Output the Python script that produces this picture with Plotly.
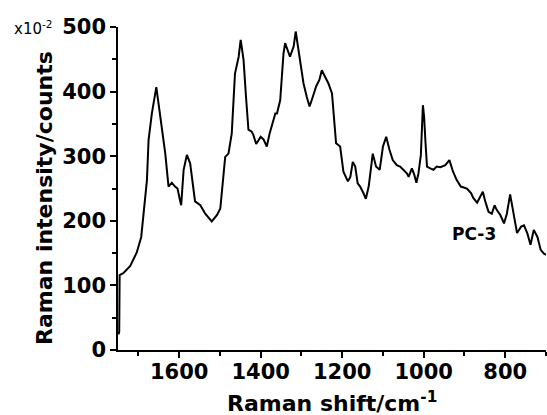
import plotly.graph_objects as go

# Raman shift (cm^-1) and intensity (x10^-2 counts)
shift = [1749, 1747, 1746, 1737, 1720, 1704, 1693, 1683, 1679, 1675, 1667, 1656,
         1647, 1634, 1626, 1618, 1610, 1604, 1598, 1595, 1589, 1581, 1573, 1565,
         1561, 1548, 1536, 1520, 1507, 1499, 1493, 1487, 1479, 1471, 1463, 1454,
         1449, 1442, 1436, 1430, 1422, 1418, 1411, 1400, 1393, 1385, 1378, 1370,
         1364, 1360, 1352, 1344, 1340, 1328, 1319, 1314, 1303, 1295, 1287, 1280,
         1272, 1264, 1256, 1250, 1242, 1234, 1225, 1221, 1215, 1205, 1197, 1186,
         1180, 1174, 1168, 1162, 1156, 1148, 1142, 1135, 1130, 1125, 1117, 1108,
         1100, 1092, 1084, 1076, 1066, 1058, 1050, 1041, 1037, 1029, 1023, 1018,
         1013, 1007, 1002, 999, 996, 992, 984, 976, 968, 959, 947, 937, 928, 919,
         909, 894, 884, 878, 869, 855, 849, 841, 833, 826, 821, 812, 803, 796,
         788, 779, 771, 761, 754, 746, 738, 730, 721, 713, 705, 698]
intensity = [24, 28, 116, 119, 130, 151, 175, 232, 263, 325, 366, 407,
             366, 304, 253, 259, 253, 250, 232, 224, 279, 302, 289, 248,
             230, 224, 211, 199, 209, 219, 263, 299, 304, 335, 428, 454,
             480, 449, 392, 341, 338, 333, 319, 330, 326, 315, 335, 353,
             366, 366, 387, 459, 475, 454, 470, 493, 449, 413, 392, 377,
             392, 408, 418, 433, 423, 413, 397, 366, 320, 315, 276, 261,
             268, 291, 284, 258, 253, 243, 234, 253, 284, 304, 284, 279,
             315, 330, 310, 294, 286, 284, 279, 273, 268, 281, 271, 259,
             273, 302, 379, 361, 325, 284, 281, 279, 284, 283, 286, 294, 276, 263,
             253, 250, 243, 235, 228, 245, 230, 214, 211, 224, 217, 209, 196, 211,
             241, 206, 181, 191, 193, 181, 163, 186, 175, 155, 149, 147]

x_ticks = [1600, 1400, 1200, 1000, 800]
x_minor = [1700, 1500, 1300, 1100, 900, 700]
y_ticks = [0, 100, 200, 300, 400, 500]
y_minor = [50, 150, 250, 350, 450]

fig = go.Figure()
fig.add_trace(go.Scatter(x=shift, y=intensity, mode="lines",
                         line=dict(color="black", width=2), showlegend=False,
                         cliponaxis=False))

tick_font = dict(family="DejaVu Sans", size=21, color="black", weight="bold")

fig.update_layout(
    width=547, height=415,
    margin=dict(l=118, r=1, t=27, b=65),
    paper_bgcolor="white", plot_bgcolor="white",
    xaxis=dict(range=[1750, 700], tickmode="array", tickvals=x_ticks,
               ticktext=[str(v) for v in x_ticks],
               showgrid=False, zeroline=False, showline=True, linecolor="black",
               linewidth=1.5, ticks="outside", ticklen=6, tickwidth=1.5,
               tickcolor="black", tickfont=tick_font, ticklabelstandoff=-4,
               minor=dict(tickmode="array", tickvals=x_minor,
                          ticks="outside", ticklen=4, tickwidth=1.5, tickcolor="black",
                          showgrid=False)),
    yaxis=dict(range=[0, 500], tickmode="array", tickvals=y_ticks,
               ticktext=[str(v) for v in y_ticks],
               showgrid=False, zeroline=False, showline=True, linecolor="black",
               linewidth=1.5, ticks="outside", ticklen=6, tickwidth=1.5,
               tickcolor="black", tickfont=tick_font,
               minor=dict(tickmode="array", tickvals=y_minor,
                          ticks="outside", ticklen=4, tickwidth=1.5, tickcolor="black",
                          showgrid=False)),
)

title_font = dict(family="DejaVu Sans", size=22, color="black", weight="bold")
fig.add_annotation(text="Raman shift/cm<sup>-1</sup>", xref="paper", yref="paper",
                   x=0.5, y=-0.16, xanchor="center", yanchor="middle",
                   showarrow=False, font=title_font)
fig.add_annotation(text="Raman intensity/counts", xref="paper", yref="paper",
                   x=-0.1706, y=0.4706, xanchor="center", yanchor="middle",
                   textangle=-90, showarrow=False, font=title_font)
fig.add_annotation(text="x10<sup>-2</sup>", xref="paper", yref="paper",
                   x=-0.1986, y=0.997, xanchor="center", yanchor="middle",
                   showarrow=False,
                   font=dict(family="DejaVu Sans", size=15, color="black"))
fig.add_annotation(text="PC-3", x=876, y=180, xref="x", yref="y",
                   showarrow=False,
                   font=dict(family="DejaVu Sans", size=17, color="black", weight="bold"))

fig.write_html("out.html", config={"displayModeBar": False},
               post_script="document.body.style.margin='0';document.body.style.padding='0';")
